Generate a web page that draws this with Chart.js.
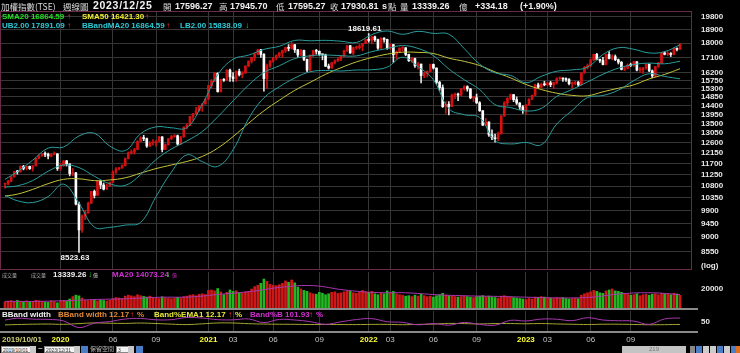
<!DOCTYPE html>
<html>
<head>
<meta charset="utf-8">
<script src="https://cdn.jsdelivr.net/npm/chart.js@4.4.1/dist/chart.umd.min.js"></script>
<style>
  body { margin: 0; background: #000; width: 740px; height: 353px; overflow: hidden; position: relative; font-family: "Liberation Sans", Arial, sans-serif; }
  canvas { position: absolute; left: 0; }
  .t { position: absolute; white-space: nowrap; font-weight: bold; font-size: 8px; line-height: 10px; }
  .h { position: absolute; top: 1px; white-space: nowrap; font-weight: bold; font-size: 9px; line-height: 11px; color: #f2f2f2; }
  .cjk { font-family: "Noto Sans CJK TC", sans-serif; font-weight: normal; font-size: 8.5px; color: #dcdcdc; }
  .up { color: #ff2a2a; }
  .dn { color: #22dd22; }
  .box { position: absolute; top: 346px; height: 7px; background: #f4f4f4; border: 1px solid #888; box-sizing: border-box; font-size: 5px; line-height: 6px; color: #333; padding-left: 1px; }
  .btn { position: absolute; top: 346px; height: 7px; width: 6px; background: #c8c8c8; }
  .ico { position: absolute; top: 346px; height: 7px; width: 7px; background: #4a7fc8; }
</style>
</head>
<body>
<canvas id="mainChart" width="740" height="271" style="top:0"></canvas>
<canvas id="volChart" width="740" height="41" style="top:270px"></canvas>
<canvas id="bwChart" width="740" height="36" style="top:311px"></canvas>

<!-- header -->
<span class="h cjk" style="left:1px">加權指數(TSE)</span>
<span class="h cjk" style="left:63px">週線圖</span>
<span class="h" style="left:93px;top:0;font-size:10.5px;letter-spacing:0.7px">2023/12/25</span>
<span class="h cjk" style="left:163px">開</span><span class="h" style="left:175px">17596.27</span>
<span class="h cjk" style="left:219px">高</span><span class="h" style="left:230px">17945.70</span>
<span class="h cjk" style="left:276px">低</span><span class="h" style="left:288px">17595.27</span>
<span class="h cjk" style="left:330px">收</span><span class="h" style="left:341px">17930.81</span>
<span class="h" style="left:382px">s</span><span class="h cjk" style="left:388px">點</span>
<span class="h cjk" style="left:400px">量</span><span class="h" style="left:412px">13339.26</span>
<span class="h cjk" style="left:459px">億</span>
<span class="h" style="left:475px">+334.18</span><span class="h" style="left:520px">(+1.90%)</span>

<span class="t" style="left:2px;top:12px;color:#22e022">SMA20 16864.59</span><span class="t up" style="left:67px;top:12px">↑</span>
<span class="t" style="left:82px;top:12px;color:#f0f030">SMA50 16421.30</span><span class="t up" style="left:145px;top:12px">↑</span>
<span class="t" style="left:2px;top:21px;color:#2ccbd6">UB2.00 17891.09</span><span class="t up" style="left:67px;top:21px">↑</span>
<span class="t" style="left:82px;top:21px;color:#2ccbd6">BBandMA20 16864.59</span><span class="t up" style="left:166px;top:21px">↑</span>
<span class="t" style="left:180px;top:21px;color:#2ccbd6">LB2.00 15838.09</span><span class="t dn" style="left:245px;top:21px">↓</span>

<span class="t" style="left:701px;top:261px;color:#e8e8e8">(log)</span>

<!-- volume legend -->
<span class="t cjk" style="left:2px;top:270px;color:#aaa;font-size:5px">成交量</span>
<span class="t cjk" style="left:31px;top:270px;color:#aaa;font-size:5px">成交量</span>
<span class="t" style="left:53px;top:270px;color:#f2f2f2">13339.26</span><span class="t dn" style="left:88px;top:270px">↓</span><span class="t cjk" style="left:93px;top:270px;color:#ddd;font-size:5px">億</span>
<span class="t" style="left:112px;top:270px;color:#d030d0">MA20 14073.24</span><span class="t dn" style="left:166px;top:270px">↓</span><span class="t cjk" style="left:172px;top:270px;color:#d030d0;font-size:5px">億</span>

<!-- bband legend -->
<span class="t" style="left:2px;top:310px;color:#f2f2f2">BBand width</span>
<span class="t" style="left:58px;top:310px;color:#e08838">BBand width 12.17</span><span class="t up" style="left:130px;top:310px">↑</span><span class="t" style="left:137px;top:310px;color:#e08838">%</span>
<span class="t" style="left:154px;top:310px;color:#e8e83a">Band%EMA1 12.17</span><span class="t up" style="left:228px;top:310px">↑</span><span class="t" style="left:235px;top:310px;color:#e8e83a">%</span>
<span class="t" style="left:250px;top:310px;color:#d030d0">Band%B 101.93</span><span class="t up" style="left:309px;top:310px">↑</span><span class="t" style="left:316px;top:310px;color:#d030d0">%</span>

<!-- bottom toolbar -->
<div class="box" style="left:1px;width:30px">2019/10/01</div><div class="btn" style="left:30px"></div>
<span class="t" style="left:38px;top:344px;color:#ccc">~</span>
<div class="box" style="left:44px;width:31px">2023/12/31</div><div class="btn" style="left:74px"></div>
<div class="ico" style="left:81px"></div>
<span class="t cjk" style="left:90px;top:344px;color:#bbb;font-size:6px">保留空間</span>
<div class="box" style="left:116px;width:13px">3</div><div class="btn" style="left:128px"></div>
<div class="ico" style="left:136px"></div>
<div style="position:absolute;left:622px;top:346px;width:64px;height:7px;background:#c4c4c4;color:#777;font-size:6px;line-height:7px;text-align:center">219</div>
<div class="ico" style="left:690px;width:5px;background:#888"></div>
<div class="ico" style="left:696px;width:6px"></div>
<div class="ico" style="left:703px;width:6px;background:#ccc"></div>
<div class="ico" style="left:710px;width:6px;background:#ccc"></div>
<div class="ico" style="left:717px;width:6px"></div>
<div class="ico" style="left:724px;width:6px;background:#ccc"></div>
<div class="ico" style="left:731px;width:5px"></div>
<div class="ico" style="left:736px;width:4px;background:#e07020"></div>

<script>
// weekly bars, 2019/09/30 .. 2023/12/25 (index = week number)
const opens = [10871,10894,10990,11160,11380,11360,11580,11502,11590,11489,11610,11927,12022,12110,12100,12024,12090,12118,11495,11612,
  11815,11686,11292,11321,10128,9234,9698,9818,10157,10597,10447,10992,10842,10680,10811,10942,11354,11480,11526,11613,
  11910,12170,12190,12304,12664,12828,12795,12460,12591,12608,12675,12875,12305,12515,12787,12889,12929,12546,12868,13335,
  13416,13845,13983,14132,14390,14482,14733,15463,15708,16153,15138,15802,15760,16341,15953,15855,16258,16070,16170,16571,
  16854,17096,17300,17567,17285,15850,16600,16870,17076,17213,17371,17502,17711,17661,17895,17572,17247,17526,16982,16341,
  17209,17516,17474,17278,17260,16570,16460,16781,16888,16987,17185,17519,17827,17370,17697,17700,17812,17961,18219,18169,
  18403,18218,17674,18310,18232,17652,17899,17264,17433,17676,17699,17284,16898,17025,16592,16696,16020,16144,16266,16675,
  16460,15641,15345,14343,14464,14342,14944,15000,14945,15288,15408,15278,14801,14807,14540,14133,13424,13578,12967,12826,
  12788,13013,13873,14536,14779,14970,14705,14528,14331,14138,14430,14738,14932,15500,15373,15533,15503,15609,15518,15627,
  15857,15868,15829,15799,15569,15579,15643,15502,16174,16505,16615,16951,17288,16972,16915,16664,17283,17030,17145,16957,
  16807,16381,16440,16634,16617,16836,16344,16353,16456,16691,16300,16001,16549,16756,17377,17291,17310,17278,17653,17596.27];
const highs = [10920,11020,11170,11390,11420,11610,11630,11600,11600,11620,11930,12070,12130,12200,12150,12130,12200,12118,11700,11830,
  11840,11700,11500,11340,10200,9750,9900,10200,10600,10650,11000,10995,10920,10880,10960,11400,11540,11550,11650,11950,
  12200,12290,12360,12700,12880,12950,12820,12660,12750,12700,12900,12880,12560,12800,12950,12980,12960,12900,13340,13500,
  13850,14000,14300,14400,14500,14750,15470,15800,16200,16190,15820,15850,16360,16400,16200,16300,16400,16250,16600,16900,
  17100,17350,17600,17600,17330,16700,16900,17100,17250,17400,17550,17750,17900,18034,17900,17600,17600,17550,17000,17250,
  17550,17600,17500,17300,17300,16700,16800,16950,17100,17200,17550,17830,17850,17750,17800,17900,17970,18250,18619.61,18450,
  18450,18250,18350,18350,18250,17950,17900,17500,17700,17750,17700,17300,17100,17050,16800,16700,16200,16300,16700,16700,
  16470,15700,15500,14600,14600,15000,15050,15050,15300,15450,15450,15300,14850,15000,14600,14150,13750,13580,13200,13000,
  13100,13900,14600,14800,15000,14980,14850,14550,14400,14450,14750,14950,15550,15600,15600,15700,15650,15700,15650,15900,
  15950,15900,15900,15850,15650,15700,15700,16200,16550,16700,17000,17300,17350,17000,17100,17300,17450,17250,17250,17000,
  16850,16550,16700,16750,16850,16850,16500,16500,16700,16700,16350,16550,16800,17400,17450,17450,17400,17700,17700,17945.70];
const lows = [10720,10840,10960,11150,11270,11350,11440,11430,11460,11390,11600,11900,12020,11990,11900,11980,12080,11420,11420,11590,
  11600,11200,11200,10100,8523.63,9150,9580,9800,10150,10350,10440,10700,10650,10670,10780,10940,11300,11440,11500,11600,
  11900,12100,12100,12290,12650,12700,12400,12440,12500,12450,12650,12200,12300,12500,12750,12850,12500,12540,12860,13250,
  13400,13650,13950,14100,14100,14470,14700,15300,15700,15100,15100,15700,15750,15700,15700,15700,16000,15900,16150,16550,
  16750,16900,17250,17100,15162,15300,16500,16800,16950,17100,17100,17400,17500,17600,17400,17100,17200,16900,16250,16300,
  17150,17300,17200,16950,16550,16400,16450,16700,16850,16900,17150,17450,17350,17250,17600,17600,17500,17950,18050,17950,
  18100,17600,17650,18050,17600,17600,16800,17000,17400,17500,17200,16850,16800,16500,16400,15616,15900,15950,16250,16400,
  15550,15200,14300,14000,13928,14340,14750,14650,14900,15200,15150,14750,14600,14500,14100,13400,13400,12900,12750,12629,
  12700,13000,13850,14400,14700,14600,14450,14200,14000,13950,14400,14700,14930,15300,15300,15450,15450,15400,15300,15550,
  15800,15700,15700,15500,15300,15500,15400,15500,16150,16400,16550,16900,16950,16800,16650,16650,17000,16950,16900,16700,
  16350,16300,16400,16550,16550,16300,16200,16150,16400,16250,15900,15950,16500,16750,17250,17200,17150,17250,17500,17595.27];
const closes = [10894,10990,11160,11380,11360,11580,11502,11590,11489,11610,11927,12022,12110,12100,12024,12090,12118,11495,11612,11815,
  11686,11292,11321,10128,9234,9698,9818,10157,10597,10447,10992,10842,10680,10811,10942,11354,11480,11526,11613,11910,
  12170,12190,12304,12664,12828,12795,12460,12591,12608,12675,12875,12305,12515,12787,12889,12929,12546,12868,13335,13416,
  13845,13983,14132,14390,14482,14733,15463,15708,16153,15138,15802,15760,16341,15953,15855,16258,16070,16170,16571,16854,
  17096,17300,17567,17285,15850,16600,16870,17076,17213,17371,17502,17711,17661,17895,17572,17247,17526,16982,16341,17209,
  17516,17474,17278,17260,16570,16460,16781,16888,16987,17185,17519,17827,17370,17697,17700,17812,17961,18219,18169,18403,
  18218,17674,18310,18232,17652,17899,17264,17433,17676,17699,17284,16898,17025,16592,16696,16020,16144,16266,16675,16460,
  15641,15345,14343,14464,14342,14944,15000,14945,15288,15408,15278,14801,14807,14540,14133,13424,13578,12967,12826,12788,
  13013,13873,14536,14779,14970,14705,14528,14331,14138,14430,14738,14932,15500,15373,15533,15503,15609,15518,15627,15857,
  15868,15829,15799,15569,15579,15643,15502,16174,16505,16615,16951,17288,16972,16915,16664,17283,17030,17145,16957,16807,
  16381,16440,16634,16617,16836,16344,16353,16456,16691,16300,16001,16549,16756,17377,17291,17310,17278,17653,17596.54,17930.81];
const volumes = [6500,7200,7800,7000,8000,7200,6800,7500,6300,7000,8200,7600,7000,6400,6000,7500,
  6800,5500,7500,8000,7000,9500,12000,13500,12800,10500,
  8200,7800,8600,8000,7600,8400,7900,7400,8100,9800,
  11000,10500,10200,12500,13500,12800,12000,14000,13000,12200,11500,12500,
  11000,10500,10000,11800,10800,10200,9800,10500,11200,10800,12000,12500,
  13500,14000,13000,14500,15000,14200,
  18500,19000,18000,20500,17000,14000,16500,19000,17500,18200,16000,15500,17000,
  17500,20000,22500,24000,26000,30500,28000,25000,24000,23500,24500,26000,28500,27000,29500,26500,
  22000,20000,18500,17500,16000,15000,14500,16500,15500,14000,15000,
  16500,17000,15500,16000,17000,18000,17500,
  16000,15500,17000,18500,17000,16500,17500,15000,14000,16000,15000,18000,16000,17500,15000,
  14000,13500,12500,13000,12000,13500,12500,14500,13000,12000,12500,11500,13000,14000,15500,13500,13000,12500,12000,11500,
  12000,12500,12000,11500,11000,12000,12500,13000,12000,
  12500,11500,11000,10500,12500,13000,12000,11500,11000,10500,10000,9500,9000,10000,9500,11500,11000,12000,11500,11000,
  10500,10000,11000,10500,11000,10000,9500,10000,10500,9800,
  13500,15000,16000,17000,18500,17500,16000,15500,18000,19000,20000,18000,17500,16500,15500,
  14500,13500,14000,15000,13000,14000,14500,13500,14500,15000,14000,15500,14500,15000,14000,15500,14800,13339.26];

// indicator lines at sample weeks
const bandIdx = [0,4,9,14,19,24,29,34,39,44,49,54,59,64,69,74,79,84,89,94,99,104,109,114,119,124,129,134,139,144,149,154,159,164,169,174,179,184,189,194,199,204,209,214,219];
const bandMid = [10760,10809,11015,11387,11644,11537,11185,10889,10826,11251,11872,12327,12688,13121,13825,14642,15483,16197,16593,17025,17194,17244,17202,17191,17454,17653,17837,17656,17206,16408,15789,15242,14443,14295,14122,14248,14875,15248,15664,16100,16455,16668,16753,16713,16864.59];
const bandUpper = [11060,11369,11847,12371,12414,12917,13041,12457,12258,13017,13344,13299,13304,14457,16065,16988,17237,17595,17793,18167,18144,18172,18116,18035,18546,18791,18567,18768,18628,18576,17645,16690,16181,16037,15624,15980,16273,16352,16512,17276,17699,17602,17373,17451,17891.09];
const bandLower = [10450,10249,10183,10403,10874,10157,9329,9321,9394,9485,10400,11355,12072,11785,11585,12296,13729,14799,15393,15883,16244,16316,16288,16347,16362,16515,17107,16544,15784,14240,13933,13794,12705,12553,12620,12516,13477,14144,14816,14924,15211,15734,16133,15975,15838.09];
const sma50 = [10420,10492,10672,10893,11062,11084,11011,11038,11123,11311,11494,11645,11792,12005,12366,12887,13511,14128,14673,15197,15640,16095,16479,16824,17092,17299,17420,17408,17337,17053,16858,16608,16233,15894,15526,15245,15048,14931,14909,15122,15315,15502,15833,16089,16421.30];
const bandPctB = [73,99,86,82,61,-33,30,52,88,95,77,79,109,101,79,76,89,38,82,74,51,14,49,80,93,50,41,7,24,2,40,12,2,69,60,87,85,65,106,74,64,59,13,89,101.93];
const bandWidth = [5.7,10.4,15.1,17.3,13.2,23.9,33.2,28.8,26.5,31.4,24.8,15.8,9.7,20.4,32.4,32.0,22.7,17.3,14.5,13.4,11.1,10.8,10.6,9.8,12.5,12.9,8.2,12.6,16.5,26.4,23.5,19.0,24.1,24.4,21.3,24.3,18.8,14.5,10.8,14.6,15.1,11.2,7.4,8.8,12.17];
const volMaIdx = [0,10,20,30,40,50,60,70,80,90,100,110,120,130,140,150,160,170,180,190,200,210,219];
const volMa = [7000,7000,7800,9000,9800,11300,11600,14500,17500,22000,23500,19000,16300,16000,14000,12800,12200,11300,10600,11300,15000,16000,14073.24];

// axis ticks
const priceTicks = [19800,18900,18000,17100,16200,15750,15300,14850,14400,13950,13500,13050,12600,12150,11700,11250,10800,10350,9900,9450,9000,8550];
const dateTickIdx = [5.5,18,35,49,66,74,87,102,118,125,139,153,169,176,190,203];
const dateTickText = ['2019/10/01','2020','06','09','2021','03','06','09','2022','03','06','09','2023','03','06','09'];
const extremeIdx = [118, 24];
const extremeVal = [18619.61, 8523.63];

const idx = closes.map((_, i) => i);
const isUp = i => closes[i] >= opens[i];
const pts = (xs, ys) => xs.map((x, k) => ({x: x, y: ys[k]}));

const font8 = {family: 'Liberation Sans', size: 8, weight: 'bold'};
const GRID = '#363636';

function xAxis(showLabels) {
  return {
    type: 'linear', min: -1.622, max: 222.89, offset: false, bounds: 'data',
    afterBuildTicks: s => { s.ticks = dateTickIdx.map(v => ({value: v})); },
    afterFit: s => { s.height = showLabels ? 16 : 0; s.paddingLeft = 0; s.paddingRight = 0; },
    grid: { drawTicks: false, offset: false, color: c => (c.tick && c.tick.value === 5.5) ? 'rgba(0,0,0,0)' : GRID },
    border: { display: false },
    ticks: showLabels ? {
      autoSkip: false, maxRotation: 0, padding: 4,
      callback: (v, i) => dateTickText[i],
      color: c => { const t = dateTickText[c.index] || ''; return t.length === 4 ? '#ffff3c' : (t.length > 4 ? '#cccc78' : '#c4c4c4'); },
      font: c => ({family: 'Liberation Sans', size: 8, weight: (dateTickText[c.index] || '').length >= 4 ? 'bold' : 'normal'})
    } : { display: false }
  };
}

function rightAxis(extra) {
  return Object.assign({
    position: 'right', bounds: 'data',
    afterFit: s => { s.width = 48; s.paddingTop = 0; s.paddingBottom = 0; },
    grid: { display: false, drawTicks: false },
    border: { display: false },
    ticks: { autoSkip: false, padding: 9, color: '#e8e8e8', font: font8, callback: v => String(v) }
  }, extra);
}

const panelPlugin = {
  id: 'panel',
  afterDraw(chart, args, opts) {
    const {ctx, chartArea: a} = chart;
    ctx.save();
    if (opts.box) {
      ctx.strokeStyle = opts.box; ctx.lineWidth = 1;
      ctx.strokeRect(a.left + 0.5, a.top + 0.5, a.right - a.left - 1, a.bottom - a.top - 1);
    }
    if (opts.bottomLine) {
      ctx.fillStyle = opts.bottomLine;
      ctx.fillRect(0, a.bottom, 698, 2);
    }
    if (opts.marks) {
      const xs = chart.scales.x, ys = chart.scales.y;
      ctx.fillStyle = '#f4f4f4'; ctx.font = 'bold 8px "Liberation Sans"'; ctx.textAlign = 'center';
      extremeIdx.forEach((i, k) => {
        const px = xs.getPixelForValue(i), py = ys.getPixelForValue(extremeVal[k]);
        const hi = k === 0;
        ctx.textBaseline = hi ? 'bottom' : 'top';
        ctx.fillText(extremeVal[k].toFixed(2), px - 4, hi ? py - 1 : py + 1);
      });
    }
    ctx.restore();
  }
};

const base = {
  responsive: false, animation: false, events: [],
  plugins: { legend: { display: false }, tooltip: { enabled: false } }
};

const line = (data, color, order) => ({ type: 'line', data: data, borderColor: color, borderWidth: 1, pointRadius: 0, tension: 0.4, order: order });

new Chart(document.getElementById('mainChart'), {
  type: 'bar',
  data: {
    datasets: [
      { data: idx.map(i => ({x: i, y: [lows[i], highs[i]]})), backgroundColor: idx.map(i => isUp(i) ? '#c81414' : '#e4e4e4'), barThickness: 1, grouped: false, order: 3 },
      { data: idx.map(i => ({x: i, y: [opens[i], closes[i]]})), backgroundColor: idx.map(i => isUp(i) ? '#d41010' : '#ffffff'), barThickness: 2, minBarLength: 1, grouped: false, order: 2 },
      line(pts(bandIdx, sma50), '#c4c43a', 1),
      line(pts(bandIdx, bandUpper), '#2b9d9d', 0),
      line(pts(bandIdx, bandMid), '#2b9d9d', 0),
      line(pts(bandIdx, bandLower), '#2b9d9d', 0)
    ]
  },
  options: Object.assign({}, base, {
    layout: { padding: { top: 11, bottom: 1, left: 0, right: 0 } },
    plugins: Object.assign({}, base.plugins, { panel: { box: '#6a2a48', marks: true } }),
    scales: {
      x: xAxis(false),
      y: rightAxis({
        type: 'logarithmic', min: 8003, max: 20180,
        afterBuildTicks: s => { s.ticks = priceTicks.map(v => ({value: v})); },
        grid: { display: true, drawTicks: false, color: GRID }
      })
    }
  }),
  plugins: [panelPlugin]
});

new Chart(document.getElementById('volChart'), {
  type: 'bar',
  data: {
    datasets: [
      { data: idx.map(i => ({x: i, y: volumes[i]})), backgroundColor: idx.map(i => isUp(i) ? '#d01818' : '#22b822'), barThickness: 2, grouped: false, order: 2 },
      line(pts(volMaIdx, volMa), '#a838b0', 0)
    ]
  },
  options: Object.assign({}, base, {
    layout: { padding: { top: 2, bottom: 3, left: 0, right: 0 } },
    plugins: Object.assign({}, base.plugins, { panel: { bottomLine: '#8a8a8a' } }),
    scales: {
      x: xAxis(false),
      y: rightAxis({ type: 'linear', min: 0, max: 37895, afterBuildTicks: s => { s.ticks = [{value: 20000}]; } })
    }
  }),
  plugins: [panelPlugin]
});

new Chart(document.getElementById('bwChart'), {
  type: 'line',
  data: {
    datasets: [
      line(pts(bandIdx, bandWidth), '#a4a432', 1),
      line(pts(bandIdx, bandPctB), '#a838b0', 0)
    ]
  },
  options: Object.assign({}, base, {
    layout: { padding: { top: 0, bottom: 0, left: 0, right: 0 } },
    plugins: Object.assign({}, base.plugins, { panel: { bottomLine: '#8a8a8a' } }),
    scales: {
      x: xAxis(true),
      y: rightAxis({ type: 'linear', min: -80, max: 200, afterBuildTicks: s => { s.ticks = [{value: 50}]; } })
    }
  }),
  plugins: [panelPlugin]
});
</script>
</body>
</html>
